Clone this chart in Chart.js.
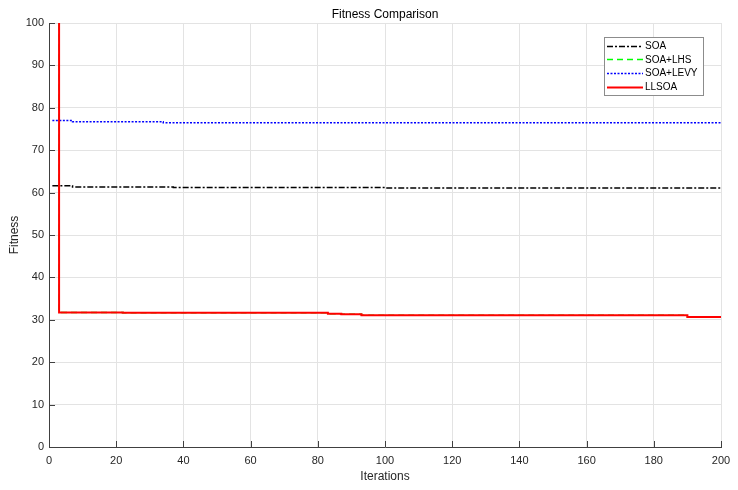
<!DOCTYPE html>
<html>
<head>
<meta charset="utf-8">
<script src="https://cdn.jsdelivr.net/npm/chart.js@4.4.0/dist/chart.umd.min.js"></script>
<style>
  html, body { margin: 0; padding: 0; background: #fff; }
  #fitnessChart { display: block; }
</style>
</head>
<body>
<canvas id="fitnessChart" width="738" height="490"></canvas>
<script>
// breakpoints of each convergence curve (value holds until the next x)
const soaX = [1, 7, 37, 100, 200];
const soaY = [61.6, 61.35, 61.2, 61.1, 61.1];

const lhsX = [1, 3, 22, 83, 87, 93, 160, 190, 200];
const lhsY = [150, 31.75, 31.65, 31.45, 31.3, 31.1, 31.05, 30.65, 30.65];

const levyX = [1, 7, 34, 200];
const levyY = [77.0, 76.7, 76.45, 76.45];

const llsoaX = [1, 3, 22, 83, 87, 93, 160, 190, 200];
const llsoaY = [150, 31.75, 31.65, 31.45, 31.3, 31.1, 31.05, 30.65, 30.65];

const seriesNames = ['SOA', 'SOA+LHS', 'SOA+LEVY', 'LLSOA'];
const xTicks = [0, 20, 40, 60, 80, 100, 120, 140, 160, 180, 200];
const yTicks = [0, 10, 20, 30, 40, 50, 60, 70, 80, 90, 100];

const toPoints = (xs, ys) => xs.map((x, i) => ({ x: x, y: ys[i] }));
const FONT = '"Liberation Sans", Arial, sans-serif';

// title, axis labels, inward ticks and the boxed legend
const decorations = {
    id: 'decorations',
    afterDraw(chart) {
        const ctx = chart.ctx;
        const area = chart.chartArea;
        const xs = chart.scales.x;
        const ys = chart.scales.y;
        ctx.save();

        ctx.strokeStyle = '#404040';
        ctx.lineWidth = 1;
        ctx.beginPath();
        xTicks.forEach(v => {
            const px = Math.round(xs.getPixelForValue(v)) + 0.5;
            ctx.moveTo(px, area.bottom);
            ctx.lineTo(px, area.bottom - 6);
        });
        yTicks.forEach(v => {
            const py = Math.round(ys.getPixelForValue(v)) + 0.5;
            ctx.moveTo(area.left, py);
            ctx.lineTo(area.left + 6, py);
        });
        ctx.stroke();

        ctx.fillStyle = '#000';
        ctx.font = '12px ' + FONT;
        ctx.textAlign = 'center';
        ctx.textBaseline = 'middle';
        ctx.fillText('Fitness Comparison', (area.left + area.right) / 2, 15);

        ctx.fillStyle = '#262626';
        ctx.fillText('Iterations', (area.left + area.right) / 2, 477);
        ctx.save();
        ctx.translate(15, (area.top + area.bottom) / 2);
        ctx.rotate(-Math.PI / 2);
        ctx.fillText('Fitness', 0, 0);
        ctx.restore();

        // legend
        const lx = 604, ly = 37, lw = 99, lh = 58;
        ctx.fillStyle = '#fff';
        ctx.fillRect(lx, ly, lw, lh);
        ctx.strokeStyle = '#8c8c8c';
        ctx.strokeRect(lx + 0.5, ly + 0.5, lw, lh);
        const rows = [45.7, 59.3, 72.9, 86.5];
        ctx.font = '10px ' + FONT;
        ctx.textAlign = 'left';
        chart.data.datasets.forEach((ds, i) => {
            const y = Math.round(rows[i]) + 0.5;
            ctx.strokeStyle = ds.borderColor;
            ctx.lineWidth = ds.borderWidth;
            ctx.setLineDash(ds.borderDash || []);
            ctx.beginPath();
            ctx.moveTo(607, y);
            ctx.lineTo(643, y);
            ctx.stroke();
            ctx.setLineDash([]);
            ctx.fillStyle = '#000';
            ctx.fillText(seriesNames[i], 645, rows[i] + 0.5);
        });

        ctx.restore();
    }
};

const fitnessCtx = document.getElementById('fitnessChart').getContext('2d');
new Chart(fitnessCtx, {
    type: 'line',
    data: {
        datasets: [
            {
                label: seriesNames[0],
                data: toPoints(soaX, soaY),
                borderColor: '#000000',
                borderWidth: 1.5,
                borderDash: [6, 2, 2, 2],
                order: 3
            },
            {
                label: seriesNames[1],
                data: toPoints(lhsX, lhsY),
                borderColor: '#00ff00',
                borderWidth: 1.5,
                borderDash: [6, 4],
                order: 2
            },
            {
                label: seriesNames[2],
                data: toPoints(levyX, levyY),
                borderColor: '#0000ff',
                borderWidth: 1.5,
                borderDash: [2, 1.5],
                order: 1
            },
            {
                label: seriesNames[3],
                data: toPoints(llsoaX, llsoaY),
                borderColor: '#ff0000',
                borderWidth: 2,
                order: 0
            }
        ]
    },
    options: {
        responsive: false,
        animation: false,
        devicePixelRatio: 1,
        layout: {
            padding: { top: 23, right: 17, left: 0, bottom: 0 }
        },
        elements: {
            point: { radius: 0 },
            line: { stepped: true, tension: 0 }
        },
        plugins: {
            legend: { display: false },
            title: { display: false },
            tooltip: { enabled: false }
        },
        scales: {
            x: {
                type: 'linear',
                min: 0,
                max: 200,
                afterFit: scale => { scale.height = 43; },
                afterBuildTicks: scale => { scale.ticks = xTicks.map(v => ({ value: v })); },
                grid: { color: '#e3e3e3', drawTicks: false },
                border: { display: true, color: '#404040' },
                ticks: {
                    padding: 7,
                    color: '#262626',
                    font: { family: FONT, size: 11 }
                }
            },
            y: {
                min: 0,
                max: 100,
                afterFit: scale => { scale.width = 49; },
                afterBuildTicks: scale => { scale.ticks = yTicks.map(v => ({ value: v })); },
                grid: { color: '#e3e3e3', drawTicks: false },
                border: { display: true, color: '#404040' },
                ticks: {
                    padding: 5,
                    color: '#262626',
                    font: { family: FONT, size: 11 }
                }
            }
        }
    },
    plugins: [decorations]
});
</script>
</body>
</html>
